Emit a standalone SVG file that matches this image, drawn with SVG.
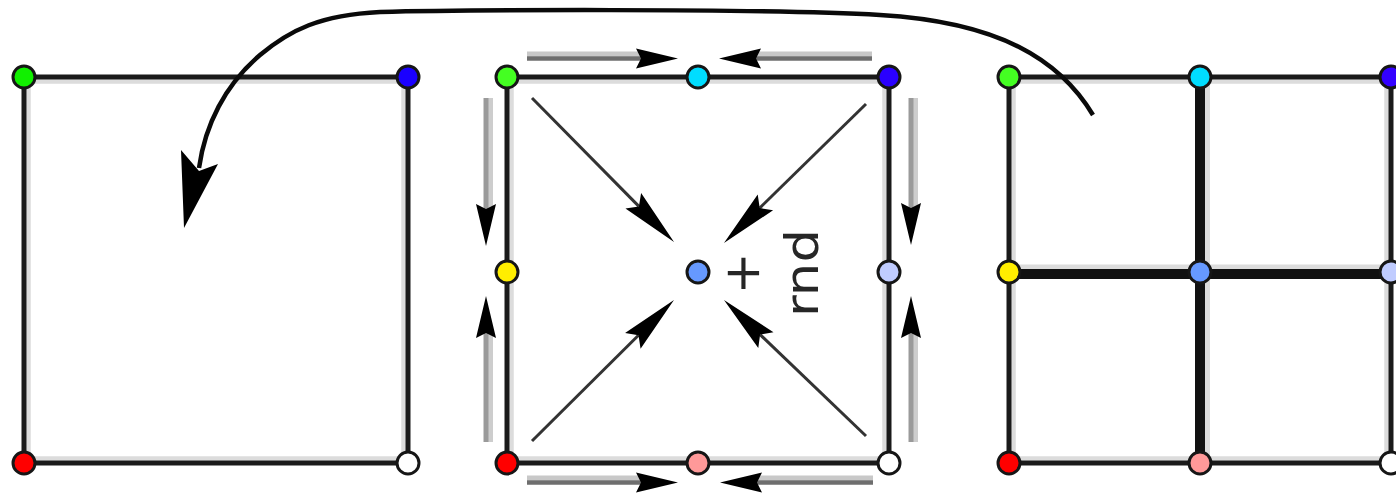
<svg xmlns="http://www.w3.org/2000/svg" width="1396" height="493" viewBox="0 0 1396 493">
<style>
.shadow{fill:none;stroke:#dcdcdc;stroke-width:4.5}
.edge{fill:none;stroke:#1a1a1a;stroke-width:5}
.thick{fill:none;stroke:#111;stroke-width:10}
.node{stroke:#161616;stroke-width:3}
.sl{stroke:#c8c8c8;stroke-width:5}
.sd{stroke:#6e6e6e;stroke-width:5}
.svl{stroke:#9a9a9a;stroke-width:5}
.svr{stroke:#cdcdcd;stroke-width:5}
.diag{stroke:#333;stroke-width:3}
.lbl{font-family:"DejaVu Sans",sans-serif;font-size:46px;fill:#262626}
</style>
<defs>
<marker id="hs" markerUnits="userSpaceOnUse" viewBox="-50 -15 60 30" markerWidth="60" markerHeight="30" refX="-37" refY="0" orient="auto" overflow="visible">
<path d="M0,0 L-42,-10 L-37,0 L-42,10 Z" fill="#000"/>
</marker>
<marker id="hd" markerUnits="userSpaceOnUse" viewBox="-70 -15 80 30" markerWidth="80" markerHeight="30" refX="-50" refY="0" orient="auto" overflow="visible">
<path d="M0,0 L-58,-11 L-50,0 L-58,11 Z" fill="#000"/>
</marker>
</defs>

<g id="square-left">
<rect class="shadow" x="28.5" y="81.5" width="375" height="377"/>
<rect class="edge" x="24" y="77" width="384" height="386"/>
</g>
<g id="square-middle">
<rect class="shadow" x="511.5" y="81.5" width="373" height="377"/>
<rect class="edge" x="507" y="77" width="382" height="386"/>
</g>
<g id="square-right">
<rect class="shadow" x="1013.5" y="81.5" width="373" height="377"/>
<line class="shadow" x1="1207.5" y1="77" x2="1207.5" y2="463" style="stroke-width:5"/>
<line class="shadow" x1="1009" y1="267" x2="1391" y2="267" style="stroke-width:5"/>
<rect class="edge" x="1009" y="77" width="382" height="386"/>
<line class="thick" x1="1200" y1="77" x2="1200" y2="463"/>
<line class="thick" x1="1009" y1="274" x2="1391" y2="274"/>
</g>

<g id="connectors">
<!-- curved arrow -->
<path d="M1093,115 C1060,60 1000,22 880,15 C760,8 450,10 380,12 C320,15 290,30 260,55 C225,85 205,125 199,168" fill="none" stroke="#0a0a0a" stroke-width="4.5"/>
<polygon points="184,228 181,150 199,171 218,164" fill="#000"/>
<!-- top horizontal arrows -->
<line class="sl" x1="527" y1="54" x2="641" y2="54"/>
<line class="sd" x1="527" y1="58.5" x2="641" y2="58.5" marker-end="url(#hs)" style="stroke-width:4.5"/>
<line class="sl" x1="872" y1="54" x2="756" y2="54"/>
<line class="sd" x1="872" y1="58.5" x2="756" y2="58.5" marker-end="url(#hs)" style="stroke-width:4.5"/>
<!-- bottom horizontal arrows -->
<line class="sl" x1="527" y1="478" x2="641" y2="478"/>
<line class="sd" x1="527" y1="482.5" x2="641" y2="482.5" marker-end="url(#hs)" style="stroke-width:4.5"/>
<line class="sl" x1="873" y1="478" x2="757" y2="478"/>
<line class="sd" x1="873" y1="482.5" x2="757" y2="482.5" marker-end="url(#hs)" style="stroke-width:4.5"/>
<!-- left vertical arrows -->
<line class="svr" x1="490.5" y1="98" x2="490.5" y2="209"/>
<line class="svl" x1="486" y1="98" x2="486" y2="209" marker-end="url(#hs)"/>
<line class="svr" x1="490.5" y1="442" x2="490.5" y2="333"/>
<line class="svl" x1="486" y1="442" x2="486" y2="333" marker-end="url(#hs)"/>
<!-- right vertical arrows -->
<line class="svr" x1="915.5" y1="98" x2="915.5" y2="208"/>
<line class="svl" x1="911" y1="98" x2="911" y2="208" marker-end="url(#hs)"/>
<line class="svr" x1="915.5" y1="442" x2="915.5" y2="333"/>
<line class="svl" x1="911" y1="442" x2="911" y2="333" marker-end="url(#hs)"/>
<!-- diagonal arrows -->
<line class="diag" x1="532" y1="98" x2="638.9" y2="206.4" marker-end="url(#hd)"/>
<line class="diag" x1="866" y1="104" x2="759.7" y2="208" marker-end="url(#hd)"/>
<line class="diag" x1="532" y1="441" x2="638.5" y2="335.2" marker-end="url(#hd)"/>
<line class="diag" x1="866" y1="436" x2="760.1" y2="334.6" marker-end="url(#hd)"/>
</g>

<g id="labels">
<text class="lbl" x="743.5" y="289" text-anchor="middle" style="font-size:50px">+</text>
<text class="lbl" transform="translate(818,317) rotate(-90)" x="0" y="0" textLength="88" lengthAdjust="spacingAndGlyphs">rnd</text>
</g>

<g id="nodes-left">
<circle id="L-tl" class="node" cx="24" cy="77" r="11" fill="#11f000"/>
<circle id="L-tr" class="node" cx="408" cy="77" r="11" fill="#1a00ff"/>
<circle id="L-bl" class="node" cx="24" cy="463" r="11" fill="#ff0000"/>
<circle id="L-br" class="node" cx="408" cy="463" r="11" fill="#ffffff"/>
</g>
<g id="nodes-middle">
<circle id="M-tl" class="node" cx="507" cy="77" r="11" fill="#44ff22"/>
<circle id="M-tm" class="node" cx="698" cy="77" r="11" fill="#00ddff"/>
<circle id="M-tr" class="node" cx="889" cy="77" r="11" fill="#2a00ff"/>
<circle id="M-ml" class="node" cx="507" cy="272" r="11" fill="#ffee00"/>
<circle id="M-c" class="node" cx="698" cy="272" r="11" fill="#6699ff"/>
<circle id="M-mr" class="node" cx="889" cy="272" r="11" fill="#c0ccff"/>
<circle id="M-bl" class="node" cx="507" cy="463" r="11" fill="#ff0000"/>
<circle id="M-bm" class="node" cx="698" cy="463" r="11" fill="#ff9999"/>
<circle id="M-br" class="node" cx="889" cy="463" r="11" fill="#ffffff"/>
</g>
<g id="nodes-right">
<circle id="R-tl" class="node" cx="1009" cy="77" r="11" fill="#44ff22"/>
<circle id="R-tm" class="node" cx="1200" cy="77" r="11" fill="#00ddff"/>
<circle id="R-tr" class="node" cx="1391" cy="77" r="11" fill="#3300ff"/>
<circle id="R-ml" class="node" cx="1009" cy="272" r="11" fill="#ffee00"/>
<circle id="R-c" class="node" cx="1200" cy="272" r="11" fill="#6699ff"/>
<circle id="R-mr" class="node" cx="1391" cy="272" r="11" fill="#c0ccff"/>
<circle id="R-bl" class="node" cx="1009" cy="463" r="11" fill="#ff0000"/>
<circle id="R-bm" class="node" cx="1200" cy="463" r="11" fill="#ff9999"/>
<circle id="R-br" class="node" cx="1391" cy="463" r="11" fill="#ffffff"/>
</g>
</svg>
